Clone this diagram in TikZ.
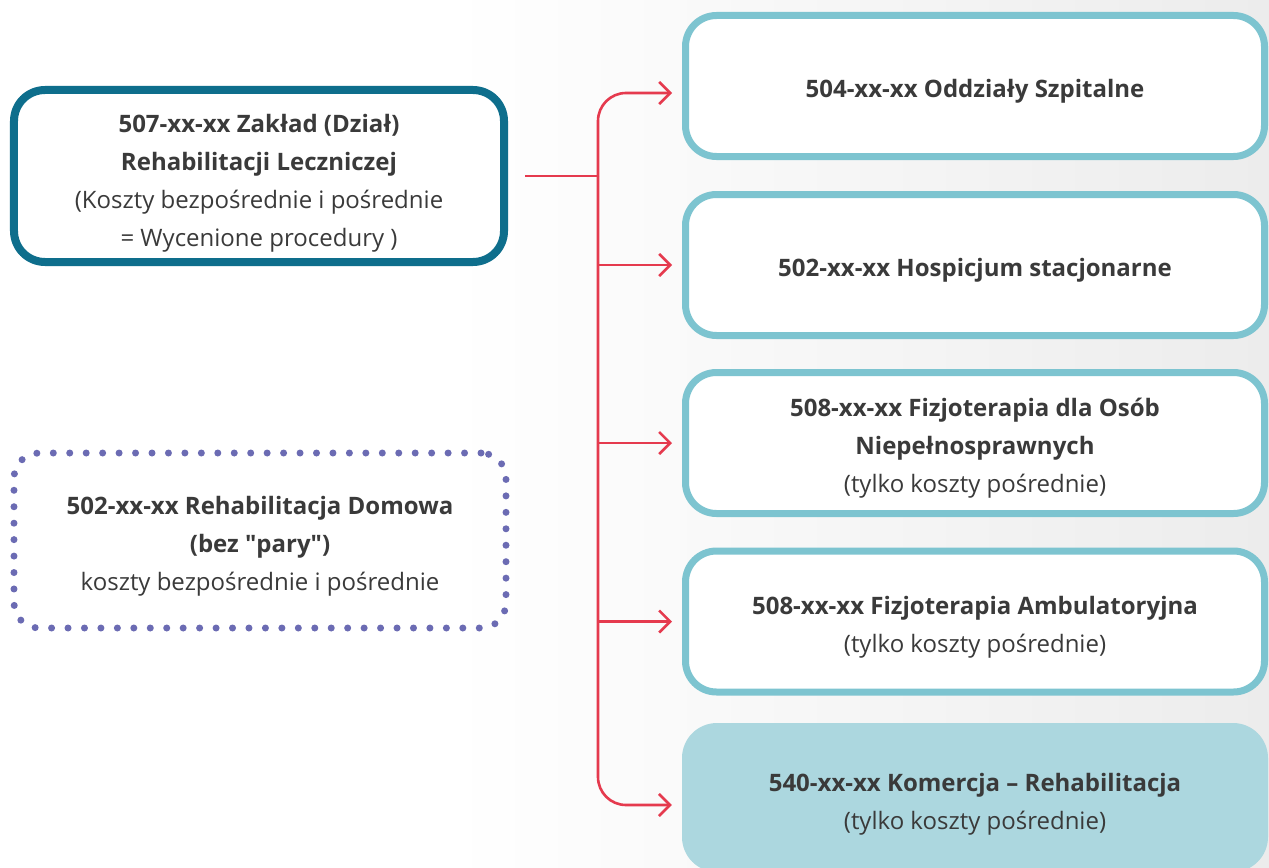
\documentclass[tikz,border=0pt]{standalone}
\usepackage{fontspec}
\setmainfont{Open Sans}
\usetikzlibrary{arrows.meta,calc}

\definecolor{deepteal}{HTML}{0E6E8C}
\definecolor{lightteal}{HTML}{7DC4D0}
\definecolor{tealfill}{HTML}{ACD7DF}
\definecolor{linkred}{HTML}{E53A4E}
\definecolor{dotpurple}{HTML}{6B6BB3}
\definecolor{inktext}{HTML}{3A3A3A}
\definecolor{bggray}{HTML}{ECECEC}

% tall strut for a first line, to lower a text block a little in its box
\newcommand{\firststrut}[1][29bp]{\rule{0pt}{#1}}

\tikzset{
  txt/.style={text=inktext, align=center,
    font=\fontsize{24bp}{38bp}\selectfont},
  mainbox/.style={txt, draw=deepteal, line width=8bp, fill=white,
    rounded corners=31bp, minimum width=490bp, minimum height=172bp},
  dotbox/.style={txt, draw=dotpurple, line width=7bp, line cap=round,
    dash pattern=on 0bp off 16.45bp, rounded corners=25bp,
    minimum width=492bp, minimum height=175bp},
  unitbox/.style={txt, draw=lightteal, line width=7bp, fill=white,
    rounded corners=31bp, minimum width=579bp, minimum height=141bp},
  unitfill/.style={txt, fill=tealfill, rounded corners=35bp,
    minimum width=586bp, minimum height=149bp},
  link/.style={draw=linkred, line width=2.6bp},
  linkarrow/.style={link, -{Straight Barb[length=11bp,width=22bp,line width=2.6bp]},
    shorten >=10bp},
}

\begin{document}
\begin{tikzpicture}[x=1bp,y=-1bp]
  \useasboundingbox (0,0) rectangle (1269,868);
  % page background
  \fill[white] (0,0) rectangle (450,868);
  \shade[left color=white, right color=bggray] (450,0) rectangle (1269,868);

  % source units on the left
  \node[mainbox] (src) at (259,176)
    {\firststrut[33bp]\textbf{507-xx-xx Zakład (Dział)}\\
     \textbf{Rehabilitacji Leczniczej}\\
     (Koszty bezpośrednie i pośrednie\\
     = Wycenione procedury )};
  \node[dotbox] (home) at (260,540.5)
    {\firststrut\textbf{502-xx-xx Rehabilitacja Domowa}\\
     \textbf{(bez \textquotedbl pary\textquotedbl)}\\
     koszty bezpośrednie i pośrednie};

  % receiving units on the right
  \node[unitbox] (u1) at (975,86)
    {\firststrut\textbf{504-xx-xx Oddziały Szpitalne}};
  \node[unitbox] (u2) at (975,265)
    {\firststrut\textbf{502-xx-xx Hospicjum stacjonarne}};
  \node[unitbox] (u3) at (975,443)
    {\firststrut\textbf{508-xx-xx Fizjoterapia dla Osób}\\
     \textbf{Niepełnosprawnych}\\
     (tylko koszty pośrednie)};
  \node[unitbox] (u4) at (975,621.5)
    {\firststrut\textbf{508-xx-xx Fizjoterapia Ambulatoryjna}\\
     (tylko koszty pośrednie)};
  \node[unitfill] (u5) at (975,797.5)
    {\firststrut[31bp]\textbf{540-xx-xx Komercja – Rehabilitacja}\\
     (tylko koszty pośrednie)};

  % distribution links
  \coordinate (start) at (525,176);
  \coordinate (fork) at (598,176);
  \draw[link] (start) -- (fork);
  \draw[linkarrow, rounded corners=28bp] (fork) |- ($(u1.west)+(0,7)$);
  \draw[linkarrow] (fork |- u2.west) -- (u2.west);
  \draw[linkarrow] (fork |- u3.west) -- (u3.west);
  \draw[linkarrow] (fork |- u4.west) -- (u4.west);
  \draw[linkarrow, rounded corners=28bp] (fork) |- ($(u5.west)+(0,7.5)$);
\end{tikzpicture}
\end{document}
